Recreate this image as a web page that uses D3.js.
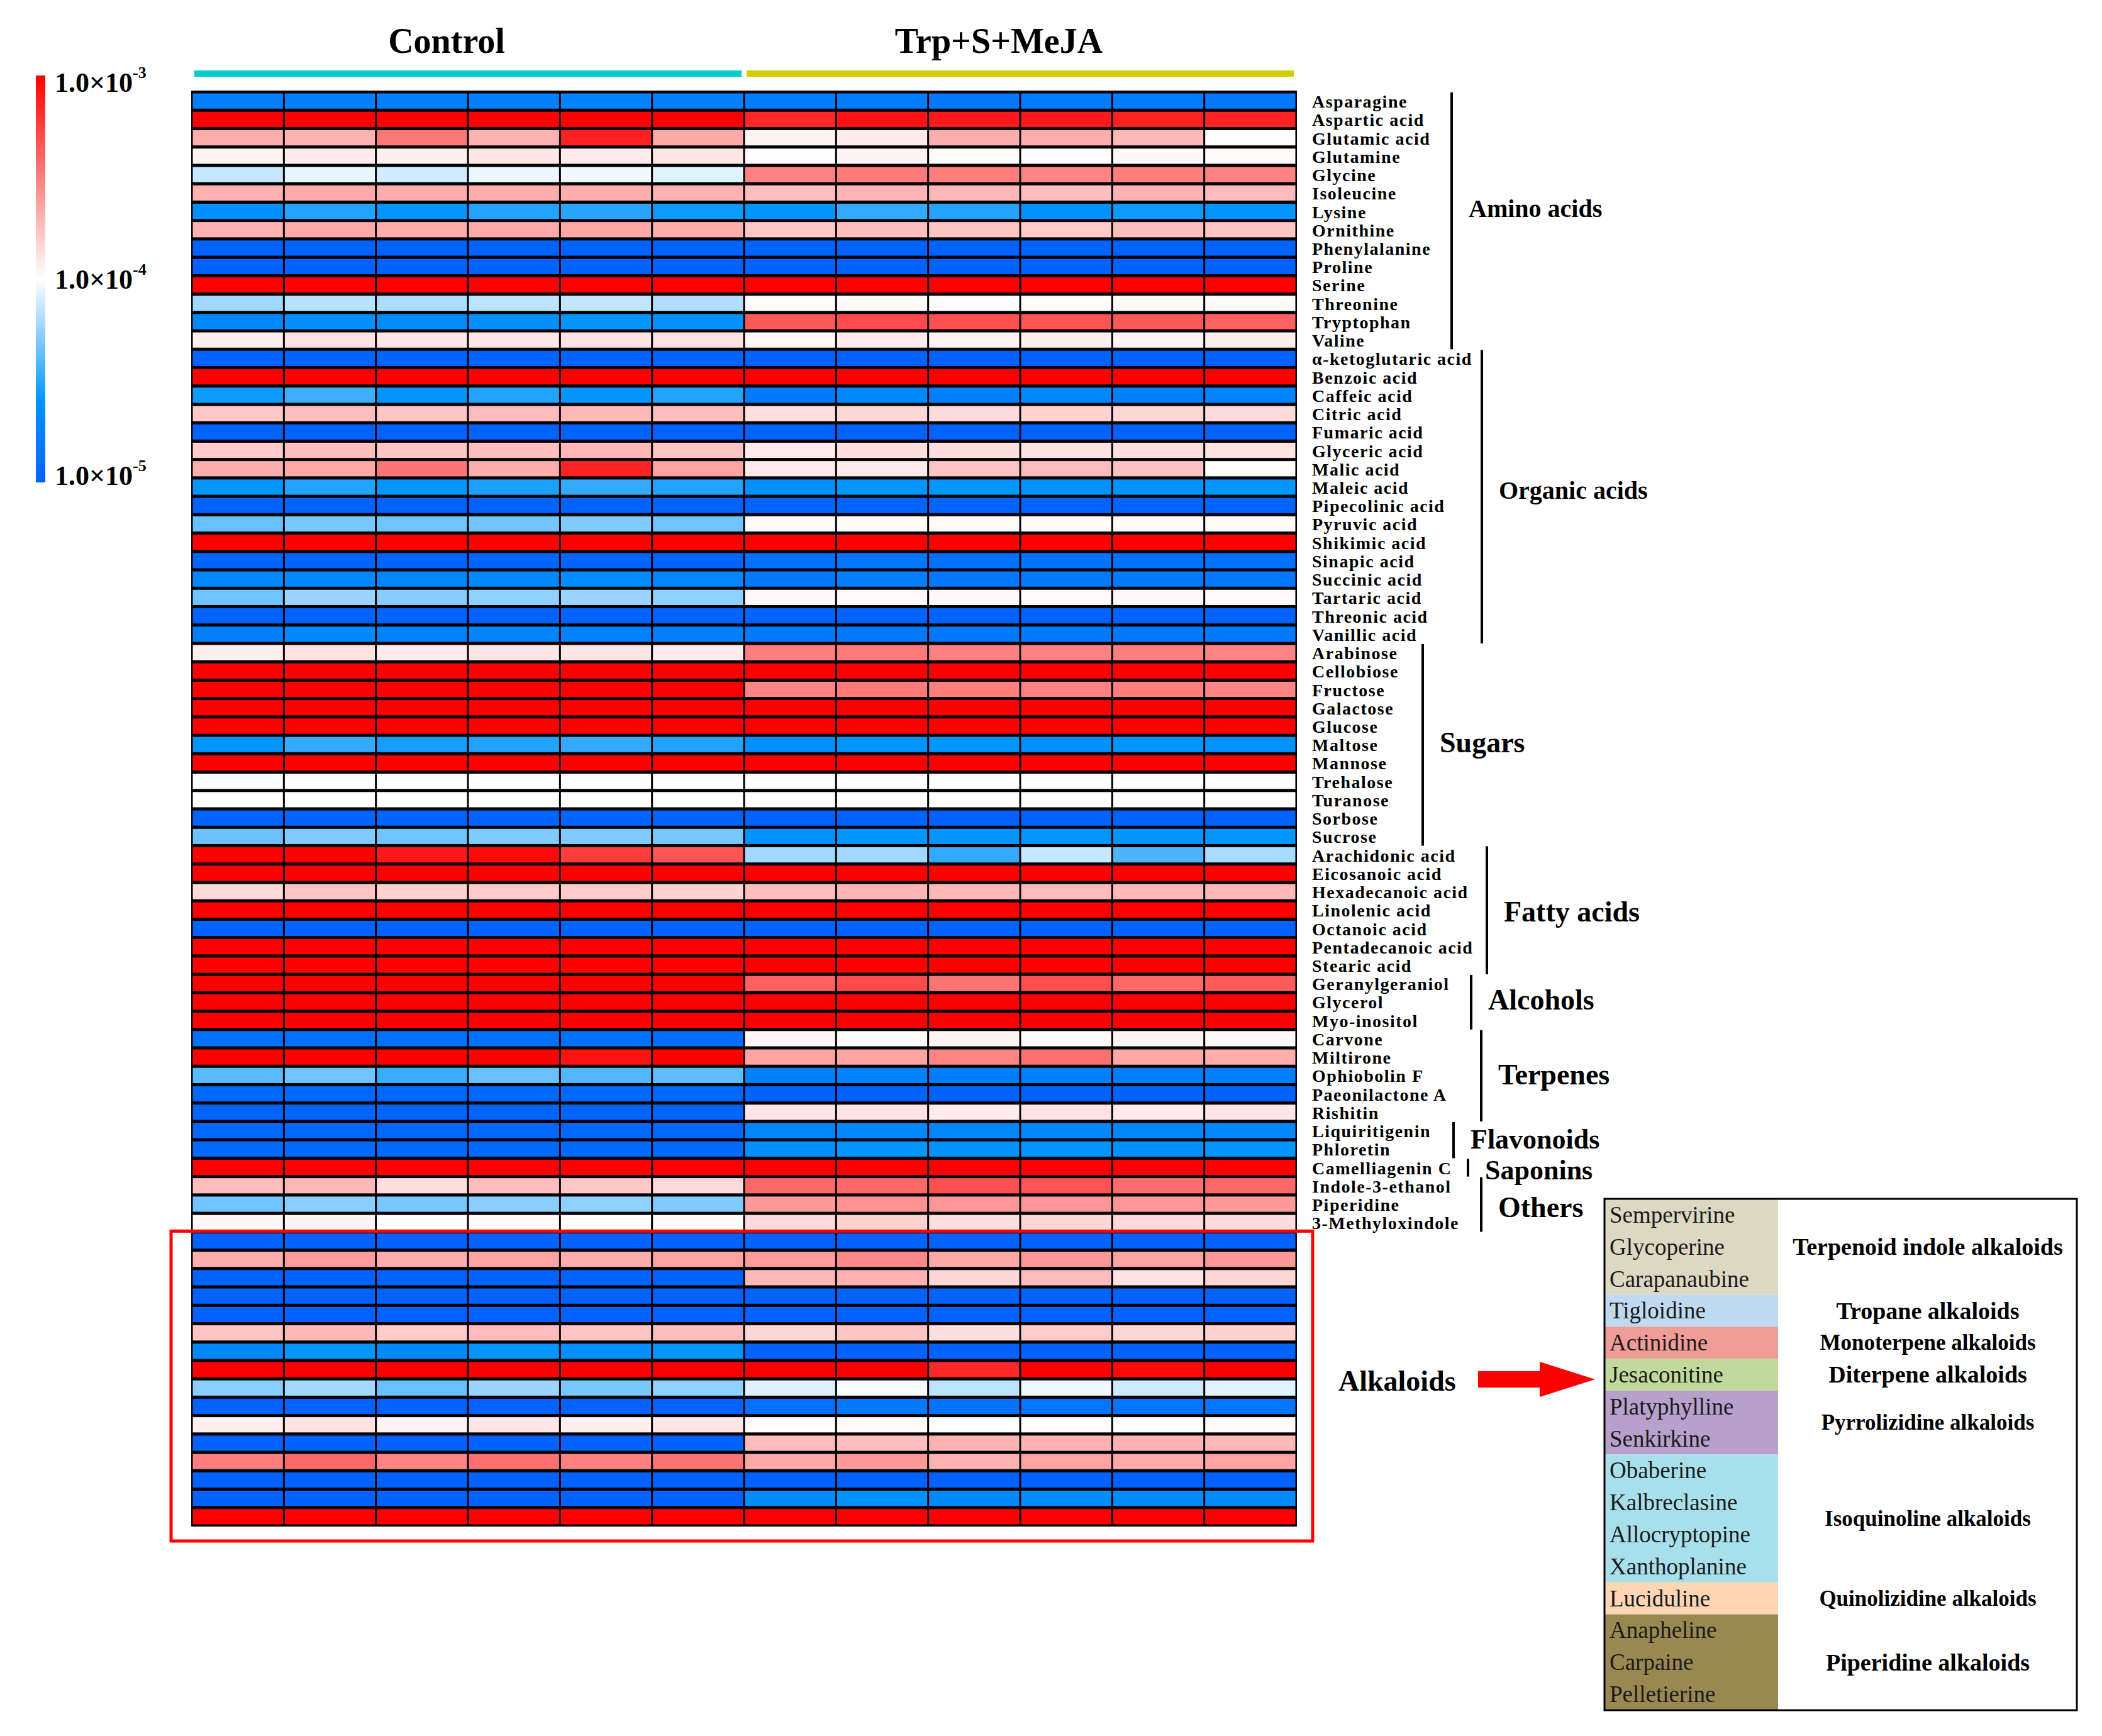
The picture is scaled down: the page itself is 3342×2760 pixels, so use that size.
<!DOCTYPE html>
<html>
<head>
<meta charset="utf-8">
<script src="https://cdn.jsdelivr.net/npm/d3@7"></script>
<style>
  body { margin: 0; background: #fff; }
  svg { display: block; font-family: "Liberation Serif", "Times New Roman", serif; }
</style>
</head>
<body>
<script>
// columns: 6 replicates per treatment
var treatments = ["Control", "Trp+S+MeJA"];
var samples = ["C1", "C2", "C3", "C4", "C5", "C6", "T1", "T2", "T3", "T4", "T5", "T6"];
var sampleTreatment = [0, 0, 0, 0, 0, 0, 1, 1, 1, 1, 1, 1];

// metabolite classes, in row order
var classNames = ["Amino acids", "Organic acids", "Sugars", "Fatty acids", "Alcohols",
  "Terpenes", "Flavonoids", "Saponins", "Others", "Alkaloids"];
var classSizes = [14, 16, 11, 7, 3, 5, 2, 1, 3, 16];

var metabolites = [
  "Asparagine", "Aspartic acid", "Glutamic acid", "Glutamine", "Glycine", "Isoleucine", "Lysine",
  "Ornithine", "Phenylalanine", "Proline", "Serine", "Threonine", "Tryptophan", "Valine",
  "\u03b1-ketoglutaric acid", "Benzoic acid", "Caffeic acid", "Citric acid", "Fumaric acid",
  "Glyceric acid", "Malic acid", "Maleic acid", "Pipecolinic acid", "Pyruvic acid", "Shikimic acid",
  "Sinapic acid", "Succinic acid", "Tartaric acid", "Threonic acid", "Vanillic acid",
  "Arabinose", "Cellobiose", "Fructose", "Galactose", "Glucose", "Maltose", "Mannose",
  "Trehalose", "Turanose", "Sorbose", "Sucrose",
  "Arachidonic acid", "Eicosanoic acid", "Hexadecanoic acid", "Linolenic acid", "Octanoic acid",
  "Pentadecanoic acid", "Stearic acid",
  "Geranylgeraniol", "Glycerol", "Myo-inositol",
  "Carvone", "Miltirone", "Ophiobolin F", "Paeonilactone A", "Rishitin",
  "Liquiritigenin", "Phloretin",
  "Camelliagenin C",
  "Indole-3-ethanol", "Piperidine", "3-Methyloxindole",
  "Sempervirine", "Glycoperine", "Carapanaubine", "Tigloidine", "Actinidine", "Jesaconitine",
  "Platyphylline", "Senkirkine", "Obaberine", "Kalbreclasine", "Allocryptopine", "Xanthoplanine",
  "Luciduline", "Anapheline", "Carpaine", "Pelletierine"
];

// content per sample (C1..C6, T1..T6)
var values = [
  [1.7e-5, 1.7e-5, 1.7e-5, 1.7e-5, 1.8e-5, 1.7e-5, 1.6e-5, 1.6e-5, 1.5e-5, 1.6e-5, 1.6e-5, 1.5e-5],
  [1.2e-3, 1.3e-3, 1.2e-3, 1.1e-3, 1.2e-3, 1.2e-3, 7.0e-4, 8.5e-4, 8.0e-4, 8.0e-4, 7.5e-4, 7.2e-4],
  [2.1e-4, 2.0e-4, 3.4e-4, 2.0e-4, 7.4e-4, 2.2e-4, 1.1e-4, 1.2e-4, 2.1e-4, 2.1e-4, 1.9e-4, 1.02e-4],
  [1.1e-4, 1.2e-4, 1.15e-4, 1.25e-4, 1.2e-4, 1.25e-4, 1.02e-4, 1.1e-4, 1.05e-4, 1.02e-4, 1.07e-4, 1.05e-4],
  [7.3e-5, 8.8e-5, 7.8e-5, 9.0e-5, 9.2e-5, 8.4e-5, 3.1e-4, 3.3e-4, 3.2e-4, 3.0e-4, 3.2e-4, 3.1e-4],
  [2.0e-4, 2.15e-4, 2.1e-4, 2.1e-4, 2.1e-4, 2.0e-4, 1.8e-4, 1.95e-4, 1.9e-4, 1.8e-4, 2.0e-4, 1.85e-4],
  [2.3e-5, 3.0e-5, 2.5e-5, 3.0e-5, 3.1e-5, 2.7e-5, 2.5e-5, 3.3e-5, 3.0e-5, 2.4e-5, 2.7e-5, 2.5e-5],
  [2.0e-4, 2.15e-4, 2.1e-4, 2.15e-4, 2.2e-4, 2.1e-4, 1.65e-4, 1.8e-4, 1.7e-4, 1.6e-4, 1.8e-4, 1.7e-4],
  [1.0e-5, 1.0e-5, 1.0e-5, 1.0e-5, 1.0e-5, 1.0e-5, 1.05e-5, 1.0e-5, 1.0e-5, 1.05e-5, 1.0e-5, 1.0e-5],
  [9.5e-6, 9.5e-6, 9.5e-6, 9.5e-6, 9.5e-6, 9.5e-6, 1.0e-5, 9.5e-6, 9.5e-6, 1.0e-5, 9.5e-6, 9.5e-6],
  [1.3e-3, 1.3e-3, 1.2e-3, 1.3e-3, 1.2e-3, 1.3e-3, 1.2e-3, 1.3e-3, 1.2e-3, 1.2e-3, 1.3e-3, 1.2e-3],
  [6.0e-5, 6.8e-5, 6.4e-5, 7.0e-5, 7.2e-5, 6.6e-5, 1.03e-4, 1.05e-4, 1.02e-4, 1.03e-4, 1.05e-4, 1.04e-4],
  [2.0e-5, 2.3e-5, 2.1e-5, 2.3e-5, 2.5e-5, 2.4e-5, 4.5e-4, 5.1e-4, 4.9e-4, 4.7e-4, 4.5e-4, 4.2e-4],
  [1.15e-4, 1.3e-4, 1.25e-4, 1.25e-4, 1.3e-4, 1.3e-4, 1.07e-4, 1.2e-4, 1.1e-4, 1.15e-4, 1.1e-4, 1.15e-4],
  [1.05e-5, 1.05e-5, 1.05e-5, 1.05e-5, 1.05e-5, 1.05e-5, 1.0e-5, 9.5e-6, 1.0e-5, 1.0e-5, 1.0e-5, 1.0e-5],
  [1.2e-3, 1.3e-3, 1.2e-3, 1.2e-3, 1.3e-3, 1.2e-3, 1.2e-3, 1.2e-3, 1.3e-3, 1.2e-3, 1.2e-3, 1.2e-3],
  [2.7e-5, 3.5e-5, 2.5e-5, 3.0e-5, 2.5e-5, 3.0e-5, 1.55e-5, 2.0e-5, 1.7e-5, 2.0e-5, 1.7e-5, 1.85e-5],
  [1.65e-4, 1.8e-4, 1.7e-4, 1.85e-4, 1.9e-4, 1.8e-4, 1.35e-4, 1.45e-4, 1.4e-4, 1.5e-4, 1.45e-4, 1.4e-4],
  [1.0e-5, 1.0e-5, 1.0e-5, 1.0e-5, 1.0e-5, 1.0e-5, 1.0e-5, 1.0e-5, 1.0e-5, 1.0e-5, 1.0e-5, 1.0e-5],
  [1.6e-4, 1.8e-4, 1.7e-4, 1.8e-4, 1.9e-4, 1.7e-4, 1.2e-4, 1.35e-4, 1.35e-4, 1.3e-4, 1.35e-4, 1.3e-4],
  [2.1e-4, 2.2e-4, 3.5e-4, 2.1e-4, 7.3e-4, 2.3e-4, 1.2e-4, 1.2e-4, 1.7e-4, 1.85e-4, 1.75e-4, 1.03e-4],
  [2.5e-5, 3.0e-5, 2.5e-5, 2.9e-5, 3.3e-5, 3.0e-5, 2.3e-5, 2.5e-5, 2.5e-5, 2.4e-5, 2.4e-5, 2.5e-5],
  [1.0e-5, 1.0e-5, 1.0e-5, 1.0e-5, 1.0e-5, 1.0e-5, 1.05e-5, 1.05e-5, 1.05e-5, 1.05e-5, 1.05e-5, 1.05e-5],
  [4.4e-5, 4.8e-5, 4.6e-5, 4.7e-5, 5.0e-5, 4.6e-5, 1.05e-4, 1.04e-4, 1.05e-4, 1.04e-4, 1.05e-4, 1.05e-4],
  [1.2e-3, 1.2e-3, 1.3e-3, 1.2e-3, 1.2e-3, 1.3e-3, 1.2e-3, 1.2e-3, 1.2e-3, 1.3e-3, 1.2e-3, 1.2e-3],
  [1.05e-5, 1.05e-5, 1.05e-5, 1.05e-5, 1.05e-5, 1.05e-5, 1.3e-5, 1.4e-5, 1.3e-5, 1.35e-5, 1.3e-5, 1.3e-5],
  [2.0e-5, 2.0e-5, 1.9e-5, 2.0e-5, 2.1e-5, 1.9e-5, 1.5e-5, 1.7e-5, 1.5e-5, 1.55e-5, 1.55e-5, 1.5e-5],
  [4.6e-5, 5.8e-5, 5.2e-5, 5.5e-5, 5.8e-5, 5.5e-5, 1.07e-4, 1.06e-4, 1.07e-4, 1.06e-4, 1.07e-4, 1.06e-4],
  [1.0e-5, 1.0e-5, 1.0e-5, 1.0e-5, 1.0e-5, 1.0e-5, 1.0e-5, 1.0e-5, 1.0e-5, 1.0e-5, 1.0e-5, 1.0e-5],
  [1.7e-5, 2.0e-5, 1.75e-5, 1.85e-5, 1.75e-5, 1.7e-5, 1.55e-5, 1.5e-5, 1.45e-5, 1.55e-5, 1.5e-5, 1.55e-5],
  [1.15e-4, 1.3e-4, 1.2e-4, 1.25e-4, 1.25e-4, 1.2e-4, 3.2e-4, 3.3e-4, 3.15e-4, 3.1e-4, 3.2e-4, 3.0e-4],
  [1.2e-3, 1.3e-3, 1.2e-3, 1.2e-3, 1.2e-3, 1.3e-3, 1.2e-3, 1.2e-3, 1.3e-3, 1.2e-3, 1.2e-3, 1.2e-3],
  [1.2e-3, 1.2e-3, 1.3e-3, 1.2e-3, 1.2e-3, 1.2e-3, 3.0e-4, 3.3e-4, 3.2e-4, 3.1e-4, 3.2e-4, 3.0e-4],
  [1.3e-3, 1.2e-3, 1.2e-3, 1.2e-3, 1.3e-3, 1.2e-3, 1.2e-3, 1.3e-3, 1.2e-3, 1.2e-3, 1.2e-3, 1.3e-3],
  [1.2e-3, 1.2e-3, 1.2e-3, 1.3e-3, 1.2e-3, 1.2e-3, 1.2e-3, 1.2e-3, 1.2e-3, 1.3e-3, 1.2e-3, 1.2e-3],
  [2.5e-5, 3.3e-5, 2.8e-5, 3.0e-5, 3.3e-5, 3.0e-5, 2.3e-5, 2.5e-5, 2.5e-5, 2.3e-5, 2.5e-5, 2.4e-5],
  [1.2e-3, 1.3e-3, 1.2e-3, 1.2e-3, 1.2e-3, 1.3e-3, 1.2e-3, 1.2e-3, 1.2e-3, 1.2e-3, 1.3e-3, 1.2e-3],
  [9.7e-5, 1.0e-4, 1.0e-4, 1.0e-4, 1.0e-4, 1.0e-4, 1.01e-4, 1.01e-4, 1.0e-4, 1.01e-4, 1.01e-4, 1.01e-4],
  [1.0e-4, 1.0e-4, 1.0e-4, 1.0e-4, 1.0e-4, 1.0e-4, 1.02e-4, 1.02e-4, 1.01e-4, 1.02e-4, 1.02e-4, 1.02e-4],
  [1.05e-5, 1.05e-5, 1.05e-5, 1.05e-5, 1.05e-5, 1.05e-5, 1.0e-5, 1.0e-5, 1.0e-5, 1.0e-5, 1.0e-5, 1.0e-5],
  [4.5e-5, 5.0e-5, 4.6e-5, 5.0e-5, 5.0e-5, 4.8e-5, 2.4e-5, 2.5e-5, 2.5e-5, 2.5e-5, 2.5e-5, 2.5e-5],
  [1.2e-3, 1.2e-3, 8.0e-4, 9.2e-4, 5.8e-4, 4.7e-4, 6.0e-5, 6.0e-5, 3.3e-5, 7.3e-5, 3.8e-5, 6.2e-5],
  [1.2e-3, 1.2e-3, 1.2e-3, 1.3e-3, 1.2e-3, 1.2e-3, 1.2e-3, 1.3e-3, 1.2e-3, 1.2e-3, 1.2e-3, 1.2e-3],
  [1.4e-4, 1.7e-4, 1.5e-4, 1.6e-4, 1.6e-4, 1.5e-4, 1.8e-4, 1.95e-4, 1.9e-4, 1.85e-4, 1.9e-4, 1.9e-4],
  [1.2e-3, 1.3e-3, 1.2e-3, 1.2e-3, 1.2e-3, 1.2e-3, 1.3e-3, 1.2e-3, 1.2e-3, 1.2e-3, 1.2e-3, 1.3e-3],
  [1.0e-5, 1.0e-5, 1.0e-5, 1.0e-5, 1.0e-5, 1.0e-5, 1.0e-5, 1.0e-5, 1.0e-5, 1.0e-5, 1.0e-5, 1.0e-5],
  [1.3e-3, 1.2e-3, 1.2e-3, 1.2e-3, 1.3e-3, 1.2e-3, 1.2e-3, 1.2e-3, 1.2e-3, 1.3e-3, 1.2e-3, 1.2e-3],
  [1.2e-3, 1.2e-3, 1.3e-3, 1.2e-3, 1.2e-3, 1.2e-3, 1.2e-3, 1.2e-3, 1.3e-3, 1.2e-3, 1.2e-3, 1.2e-3],
  [1.2e-3, 1.2e-3, 1.2e-3, 1.2e-3, 1.2e-3, 1.3e-3, 4.2e-4, 5.1e-4, 3.5e-4, 4.9e-4, 3.9e-4, 4.4e-4],
  [1.3e-3, 1.2e-3, 1.2e-3, 1.2e-3, 1.2e-3, 1.2e-3, 1.2e-3, 1.2e-3, 1.2e-3, 1.3e-3, 1.2e-3, 1.2e-3],
  [1.2e-3, 1.2e-3, 1.2e-3, 1.3e-3, 1.2e-3, 1.2e-3, 1.2e-3, 1.3e-3, 1.2e-3, 1.2e-3, 1.2e-3, 1.2e-3],
  [1.3e-5, 1.3e-5, 1.3e-5, 1.3e-5, 1.3e-5, 1.25e-5, 1.08e-4, 1.05e-4, 1.1e-4, 1.05e-4, 1.1e-4, 1.07e-4],
  [1.2e-3, 1.2e-3, 1.2e-3, 1.2e-3, 8.5e-4, 1.2e-3, 2.3e-4, 2.3e-4, 3.0e-4, 3.6e-4, 2.2e-4, 2.1e-4],
  [4.1e-5, 4.6e-5, 3.4e-5, 4.4e-5, 3.9e-5, 4.2e-5, 1.7e-5, 1.75e-5, 1.6e-5, 1.7e-5, 1.65e-5, 1.7e-5],
  [1.1e-5, 1.1e-5, 1.1e-5, 1.1e-5, 1.1e-5, 1.1e-5, 1.0e-5, 1.0e-5, 1.0e-5, 1.0e-5, 1.0e-5, 1.0e-5],
  [1.05e-5, 1.05e-5, 1.05e-5, 1.05e-5, 1.05e-5, 1.05e-5, 1.25e-4, 1.3e-4, 1.2e-4, 1.3e-4, 1.2e-4, 1.25e-4],
  [1.1e-5, 1.1e-5, 1.1e-5, 1.1e-5, 1.1e-5, 1.1e-5, 1.9e-5, 2.0e-5, 1.9e-5, 2.0e-5, 1.9e-5, 2.0e-5],
  [1.15e-5, 1.15e-5, 1.15e-5, 1.15e-5, 1.15e-5, 1.15e-5, 2.3e-5, 2.5e-5, 2.4e-5, 2.5e-5, 2.3e-5, 2.5e-5],
  [1.2e-3, 1.3e-3, 1.2e-3, 1.2e-3, 1.2e-3, 1.2e-3, 1.2e-3, 1.2e-3, 1.3e-3, 1.2e-3, 1.2e-3, 1.2e-3],
  [1.8e-4, 1.9e-4, 1.35e-4, 1.8e-4, 1.65e-4, 1.4e-4, 3.9e-4, 3.9e-4, 4.9e-4, 4.7e-4, 3.7e-4, 3.9e-4],
  [4.6e-5, 5.3e-5, 4.8e-5, 5.3e-5, 5.4e-5, 5.0e-5, 2.5e-4, 2.7e-4, 2.6e-4, 2.6e-4, 2.6e-4, 2.5e-4],
  [1.08e-4, 1.1e-4, 1.02e-4, 1.05e-4, 1.03e-4, 1.05e-4, 1.4e-4, 1.5e-4, 1.35e-4, 1.45e-4, 1.4e-4, 1.38e-4],
  [1.0e-5, 1.0e-5, 1.0e-5, 1.0e-5, 1.0e-5, 1.0e-5, 1.0e-5, 1.0e-5, 1.0e-5, 1.0e-5, 1.0e-5, 1.0e-5],
  [2.1e-4, 2.45e-4, 2.1e-4, 2.3e-4, 2.1e-4, 2.3e-4, 2.45e-4, 2.9e-4, 2.2e-4, 2.55e-4, 2.3e-4, 2.55e-4],
  [1.0e-5, 1.0e-5, 1.0e-5, 1.0e-5, 1.0e-5, 1.0e-5, 1.9e-4, 2.0e-4, 1.45e-4, 1.85e-4, 1.3e-4, 1.45e-4],
  [1.0e-5, 1.0e-5, 1.0e-5, 1.0e-5, 1.0e-5, 1.0e-5, 1.0e-5, 1.0e-5, 1.0e-5, 1.0e-5, 1.0e-5, 1.0e-5],
  [1.0e-5, 1.0e-5, 1.0e-5, 1.0e-5, 1.0e-5, 1.0e-5, 1.0e-5, 1.0e-5, 1.0e-5, 1.0e-5, 1.0e-5, 1.0e-5],
  [1.7e-4, 1.9e-4, 1.6e-4, 1.85e-4, 1.7e-4, 1.8e-4, 1.45e-4, 1.7e-4, 1.35e-4, 1.6e-4, 1.45e-4, 1.5e-4],
  [2.0e-5, 2.5e-5, 2.0e-5, 2.5e-5, 2.3e-5, 2.5e-5, 1.0e-5, 1.0e-5, 1.0e-5, 1.0e-5, 1.0e-5, 1.0e-5],
  [1.2e-3, 1.2e-3, 1.3e-3, 1.2e-3, 1.2e-3, 1.2e-3, 1.2e-3, 1.2e-3, 7.0e-4, 1.2e-3, 9.2e-4, 1.2e-3],
  [5.3e-5, 6.1e-5, 4.4e-5, 5.8e-5, 4.8e-5, 5.5e-5, 8.3e-5, 9.6e-5, 7.0e-5, 9.2e-5, 7.6e-5, 8.5e-5],
  [1.0e-5, 1.0e-5, 1.0e-5, 1.0e-5, 1.0e-5, 1.0e-5, 1.3e-5, 1.5e-5, 1.35e-5, 1.4e-5, 1.4e-5, 1.4e-5],
  [1.15e-4, 1.3e-4, 1.1e-4, 1.25e-4, 1.15e-4, 1.25e-4, 1.03e-4, 1.05e-4, 1.01e-4, 1.03e-4, 1.02e-4, 1.05e-4],
  [1.0e-5, 1.0e-5, 1.0e-5, 1.0e-5, 1.0e-5, 1.0e-5, 1.85e-4, 1.8e-4, 2.0e-4, 2.0e-4, 2.0e-4, 1.9e-4],
  [3.2e-4, 3.9e-4, 3.0e-4, 3.6e-4, 3.15e-4, 3.5e-4, 2.2e-4, 2.5e-4, 2.0e-4, 2.3e-4, 2.15e-4, 2.3e-4],
  [1.0e-5, 1.0e-5, 1.0e-5, 1.0e-5, 1.0e-5, 1.0e-5, 1.0e-5, 1.0e-5, 1.0e-5, 1.0e-5, 1.0e-5, 1.0e-5],
  [1.0e-5, 1.0e-5, 1.0e-5, 1.0e-5, 1.0e-5, 1.0e-5, 2.1e-5, 2.4e-5, 2.0e-5, 2.2e-5, 2.1e-5, 2.1e-5],
  [1.2e-3, 1.2e-3, 1.2e-3, 1.3e-3, 1.2e-3, 1.2e-3, 1.2e-3, 1.3e-3, 1.2e-3, 1.2e-3, 1.2e-3, 1.2e-3]
];

// colour bar ticks
var colorTicks = [1e-3, 1e-4, 1e-5];
var colorTickExp = ["-3", "-4", "-5"];

// alkaloid legend: sub-classes and how many rows each covers
var alkaloidGroups = ["Terpenoid indole alkaloids", "Tropane alkaloids", "Monoterpene alkaloids",
  "Diterpene alkaloids", "Pyrrolizidine alkaloids", "Isoquinoline alkaloids",
  "Quinolizidine alkaloids", "Piperidine alkaloids"];
var alkaloidGroupSizes = [3, 1, 1, 1, 2, 4, 1, 3];

// ---- styling / layout ----
var alkaloidColors = ["#ddd8c2", "#bfd9f0", "#f09c97", "#c1da9b", "#b8a0cc", "#a7dfea", "#fdd6b3", "#9a8851"];
var bracketX = {"Amino acids": 2308, "Organic acids": 2356, "Sugars": 2262, "Fatty acids": 2364,
  "Alcohols": 2339, "Terpenes": 2355, "Flavonoids": 2311, "Saponins": 2334, "Others": 2355};
var bracketDy = {"Amino acids": -20, "Organic acids": -10, "Sugars": -4, "Fatty acids": 2,
  "Alcohols": -4, "Terpenes": -2, "Flavonoids": -1, "Saponins": 4, "Others": 5};
var bracketFont = {"Amino acids": 40, "Organic acids": 40, "Flavonoids": 44, "Saponins": 44};

var W = 3342, H = 2760;
var svg = d3.select("body").append("svg")
  .attr("width", W)
  .attr("height", H);

var x = d3.scaleBand().domain(samples).range([305, 2061]);
var y = d3.scaleBand().domain(metabolites).range([146, 2426]);

var color = d3.scaleLog()
  .domain([1e-5, 2.5e-5, 1e-4, 1e-3])
  .range(["#0062ff", "#0095ff", "#ffffff", "#ff0000"])
  .interpolate(d3.interpolateRgb)
  .clamp(true);

// class of each row
var rowClass = [];
classNames.forEach(function(c, i) {
  for (var k = 0; k < classSizes[i]; k++) rowClass.push(c);
});

// ---- heatmap ----
var cells = [];
metabolites.forEach(function(m, i) {
  samples.forEach(function(s, j) {
    cells.push({m: m, s: s, v: values[i][j]});
  });
});

svg.append("rect")
  .attr("x", x.range()[0] - 1)
  .attr("y", y.range()[0] - 2)
  .attr("width", x.range()[1] - x.range()[0] + 2)
  .attr("height", y.range()[1] - y.range()[0] + 3)
  .attr("fill", "#000");

svg.append("g").selectAll("rect")
  .data(cells)
  .enter()
  .append("rect")
  .attr("x", function(d) { return x(d.s) + 1.5; })
  .attr("y", function(d) { return y(d.m) + 2.5; })
  .attr("width", x.bandwidth() - 3)
  .attr("height", y.bandwidth() - 5)
  .style("fill", function(d) { return color(d.v); });

// ---- treatment header ----
treatments.forEach(function(t, i) {
  var cols = samples.filter(function(s, j) { return sampleTreatment[j] === i; });
  var x0 = x(cols[0]) + 4;
  var x1 = x(cols[cols.length - 1]) + x.bandwidth() - 4;
  svg.append("rect")
    .attr("x", x0).attr("y", 112)
    .attr("width", x1 - x0).attr("height", 10)
    .attr("fill", i === 0 ? "#00cccc" : "#d2cd00");
  svg.append("text")
    .attr("x", (x0 + x1) / 2 - 34).attr("y", 84)
    .attr("text-anchor", "middle")
    .attr("font-size", 56).attr("font-weight", "bold")
    .text(t);
});

// ---- colour bar ----
var grad = svg.append("defs").append("linearGradient")
  .attr("id", "cb").attr("x1", 0).attr("y1", 1).attr("x2", 0).attr("y2", 0);
d3.range(0, 21).forEach(function(k) {
  var v = Math.pow(10, -5 + k / 10);
  grad.append("stop").attr("offset", k / 20).attr("stop-color", color(v));
});

var cb = d3.scaleLog().domain([1e-5, 1e-3]).range([767, 120]);
svg.append("rect")
  .attr("x", 57).attr("y", cb(1e-3))
  .attr("width", 15).attr("height", cb(1e-5) - cb(1e-3))
  .attr("fill", "url(#cb)");

colorTicks.forEach(function(v, i) {
  var yy = Math.max(131, Math.min(756, cb(v)));
  var t = svg.append("text")
    .attr("x", 87).attr("y", yy)
    .attr("dominant-baseline", "central")
    .attr("font-size", 44).attr("font-weight", "bold");
  t.append("tspan").text("1.0\u00d710");
  t.append("tspan").attr("dy", -16).attr("font-size", 26).text(colorTickExp[i]);
});

// ---- row labels ----
svg.append("g").selectAll("text")
  .data(metabolites.filter(function(m, i) { return rowClass[i] !== "Alkaloids"; }))
  .enter()
  .append("text")
  .attr("x", 2086)
  .attr("y", function(d) { return y(d) + y.bandwidth() / 2 + 1; })
  .attr("dominant-baseline", "central")
  .attr("font-size", 28)
  .attr("font-weight", "bold")
  .attr("letter-spacing", 1.5)
  .text(function(d) { return d; });

// ---- class brackets ----
var start = 0;
classNames.forEach(function(c, i) {
  var first = metabolites[start], last = metabolites[start + classSizes[i] - 1];
  start += classSizes[i];
  if (c === "Alkaloids") return;
  var bx = bracketX[c];
  var y0 = y(first) + 1, y1 = y(last) + y.bandwidth();
  svg.append("line")
    .attr("x1", bx).attr("x2", bx)
    .attr("y1", y0).attr("y2", y1)
    .attr("stroke", "#000").attr("stroke-width", 4);
  svg.append("text")
    .attr("x", bx + 27).attr("y", (y0 + y1) / 2 + bracketDy[c])
    .attr("dominant-baseline", "central")
    .attr("font-size", bracketFont[c] || 46).attr("font-weight", "bold")
    .text(c);
});

// ---- alkaloid box, label, arrow ----
var alkRows = metabolites.filter(function(m, i) { return rowClass[i] === "Alkaloids"; });
var boxTop = y(alkRows[0]) - 1;
var boxBottom = y(alkRows[alkRows.length - 1]) + y.bandwidth() + 24;
svg.append("rect")
  .attr("x", x.range()[0] - 33).attr("y", boxTop)
  .attr("width", x.range()[1] - x.range()[0] + 59)
  .attr("height", boxBottom - boxTop)
  .attr("fill", "none").attr("stroke", "#ff0000").attr("stroke-width", 5);

svg.append("text")
  .attr("x", 2128).attr("y", 2195)
  .attr("dominant-baseline", "central")
  .attr("font-size", 46).attr("font-weight", "bold")
  .text("Alkaloids");

svg.append("path")
  .attr("d", "M2350,2180 L2448,2180 L2448,2165 L2536,2193 L2448,2221 L2448,2206 L2350,2206 Z")
  .attr("fill", "#ff0000");

// ---- alkaloid legend ----
var lx0 = 2551, lx1 = 3302, ly0 = 1906, ly1 = 2719, colW = 276;
var ly = d3.scaleBand().domain(alkRows).range([ly0, ly1]);
var legend = svg.append("g");
var idx = 0;
alkaloidGroups.forEach(function(g, i) {
  var rows = alkRows.slice(idx, idx + alkaloidGroupSizes[i]);
  idx += alkaloidGroupSizes[i];
  var gy0 = ly(rows[0]), gy1 = ly(rows[rows.length - 1]) + ly.bandwidth();
  legend.append("rect")
    .attr("x", lx0).attr("y", gy0)
    .attr("width", colW).attr("height", gy1 - gy0)
    .attr("fill", alkaloidColors[i]);
  rows.forEach(function(r) {
    legend.append("text")
      .attr("x", lx0 + 8).attr("y", ly(r) + ly.bandwidth() / 2)
      .attr("dominant-baseline", "central")
      .attr("font-size", 37).attr("fill", "#1a1a1a")
      .text(r);
  });
  var small = ["Monoterpene alkaloids", "Pyrrolizidine alkaloids", "Isoquinoline alkaloids", "Quinolizidine alkaloids"];
  legend.append("text")
    .attr("x", 3065).attr("y", (gy0 + gy1) / 2)
    .attr("text-anchor", "middle")
    .attr("dominant-baseline", "central")
    .attr("font-size", small.indexOf(g) >= 0 ? 35 : 38)
    .attr("font-weight", "bold")
    .text(g);
});
legend.append("rect")
  .attr("x", lx0).attr("y", ly0)
  .attr("width", lx1 - lx0).attr("height", ly1 - ly0)
  .attr("fill", "none").attr("stroke", "#000").attr("stroke-width", 3);
</script>
</body>
</html>
